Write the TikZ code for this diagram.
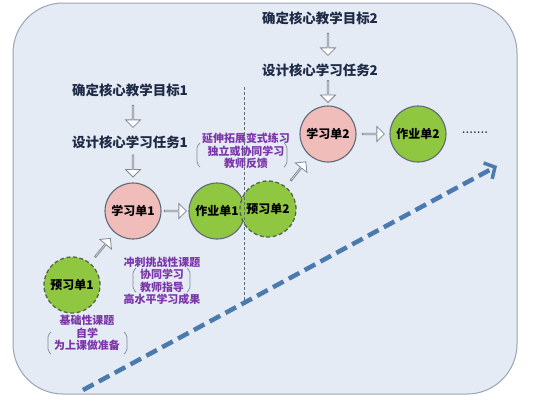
\documentclass[tikz,border=0pt]{standalone}
\usepackage{fontspec}
\usepackage{xcolor}
\usetikzlibrary{shapes.arrows, arrows.meta, calc}

\newfontfamily\cjk{Noto Sans CJK SC}
\newfontfamily\cjkheavy{Noto Sans CJK SC Black}

\definecolor{bgfill}{HTML}{E4EBF5}
\definecolor{bgrim}{HTML}{9AA4B2}
\definecolor{navy}{HTML}{1F2B46}
\definecolor{pinkfill}{HTML}{F0BDBA}
\definecolor{greenfill}{HTML}{8FC740}
\definecolor{rimgray}{HTML}{5E6A78}
\definecolor{rimgreen}{HTML}{55664E}
\definecolor{arrowgray}{HTML}{7F8894}
\definecolor{notepurple}{HTML}{7A35A8}
\definecolor{flowblue}{HTML}{4B7BAE}

\tikzset{
  goal/.style={font=\cjk\bfseries\fontsize{13.5}{15}\selectfont, text=navy, inner sep=0pt},
  sheet/.style={circle, minimum size=56bp, inner sep=0pt, draw=rimgray, line width=1.1bp,
    font=\cjkheavy\fontsize{12}{14}\selectfont, text=black},
  studysheet/.style={sheet, fill=pinkfill},
  worksheet/.style={sheet, fill=greenfill},
  prepsheet/.style={sheet, fill=greenfill, draw=rimgreen, line width=1.3bp, dash pattern=on 4bp off 2.5bp},
  hollow/.style={single arrow, draw=arrowgray, fill=white, line width=0.8bp, inner sep=0pt,
    minimum height=22bp, minimum width=15bp, single arrow head extend=3.5bp,
    sloped, allow upside down},
  note/.style={font=\cjk\bfseries\fontsize{11}{12.5}\selectfont, text=notepurple, align=center, inner sep=0pt},
  bracket/.style={draw=arrowgray, line width=0.7bp, rounded corners=2bp},
  divider/.style={draw=rimgray, line width=0.6bp, dash pattern=on 3bp off 2bp},
  flow/.style={draw=flowblue, line width=4.5bp, dash pattern=on 12bp off 6bp,
    -{Straight Barb[length=8bp, width=18bp, line width=3.5bp]}},
}

\begin{document}
\begin{tikzpicture}[x=1bp, y=-1bp]

  \useasboundingbox (0,0) rectangle (554,400);

  % Background panel
  \draw[fill=bgfill, draw=bgrim, line width=1bp, rounded corners=50bp] (13,3) rectangle (517,394);

  % Growth arrow underneath everything
  \coordinate (flowstart) at (83,390);
  \coordinate (flowend) at (497,166);
  \draw[flow] (flowstart) -- (flowend);

  % Goals and tasks
  \node[goal] (g1) at (130,90) {确定核心教学目标1};
  \node[goal] (t1) at (130,142) {设计核心学习任务1};
  \node[goal] (g2) at (320,18) {确定核心教学目标2};
  \node[goal] (t2) at (320,70) {设计核心学习任务2};

  % Sheets
  \node[prepsheet] (p1) at (72,285) {预习单1};
  \node[studysheet] (l1) at (133,211) {学习单1};
  \node[worksheet] (w1) at (217,211) {作业单1};
  \node[prepsheet] (p2) at (268,209) {预习单2};
  \node[studysheet] (l2) at (328,134) {学习单2};
  \node[worksheet] (w2) at (418,134) {作业单2};
  \node[font=\bfseries\fontsize{12}{14}\selectfont, text=navy, inner sep=0pt] (more) at (475,133) {.......};

  % Hollow arrows
  \path (g1.south -| l1) -- node[hollow] {} (t1.north -| l1);
  \path (t1.south -| l1) -- node[hollow] {} (l1.north);
  \path (g2.south -| l2) -- node[hollow] {} (t2.north -| l2);
  \path (t2.south -| l2) -- node[hollow] {} (l2.north);
  \path (l1.east) -- node[hollow] {} (w1.west);
  \path (l2.east) -- node[hollow] {} (w2.west);
  \path (p1) -- node[hollow, minimum height=24bp] {} (l1);
  \path (p2) -- node[hollow, minimum height=24bp] {} (l2);

  % Notes
  \node[note] (n1) at (246,151) {延伸拓展变式练习\\独立或协同学习\\教师反馈};
  \node[note] (n2) at (162,281) {冲刺挑战性课题\\协同学习\\教师指导\\高水平学习成果};
  \node[note] (n3) at (87,333) {基础性课题\\自学\\为上课做准备};

  % Brackets round the notes
  \draw[bracket] ($(n1.center)+(-46,-8)$) -- ++(-3,3) -- ++(0,18) -- ++(3,3);
  \draw[bracket] ($(n1.center)+(38,-8)$) -- ++(3,3) -- ++(0,18) -- ++(-3,3);
  \draw[bracket] ($(n2.center)+(-26,-13)$) -- ++(-3,3) -- ++(0,18) -- ++(3,3);
  \draw[bracket] ($(n2.center)+(25,-13)$) -- ++(3,3) -- ++(0,18) -- ++(-3,3);
  \draw[bracket] ($(n3.center)+(-36,-1)$) -- ++(-3,3) -- ++(0,16) -- ++(3,3);
  \draw[bracket] ($(n3.center)+(37,-1)$) -- ++(3,3) -- ++(0,16) -- ++(-3,3);

  % Dividing line between the two rounds
  \draw[divider] (244,87) -- (244,300);

\end{tikzpicture}
\end{document}
